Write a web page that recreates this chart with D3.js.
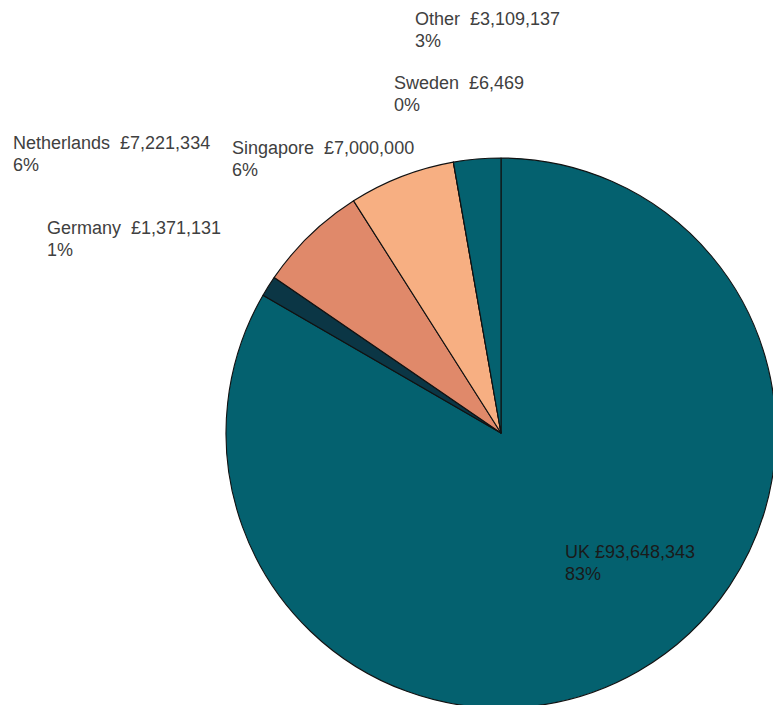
<!DOCTYPE html>
<html><head><meta charset="utf-8">
<script src="https://cdn.jsdelivr.net/npm/d3@7"></script>
<style>body{margin:0;background:#fff}svg{display:block}</style>
</head><body>
<script>
const countries = ["UK","Germany","Netherlands","Singapore","Sweden","Other"];
const amounts = [93648343,1371131,7221334,7000000,6469,3109137];
const percents = ["83%","1%","6%","6%","0%","3%"];
const colors = ["#04616F","#0B3645","#E0896A","#F7AF82","#F7AF82","#04616F"];
// label anchor positions (layout only)
const labelPos = [[565,558],[47,234],[13,149],[232,154],[394,89],[415,25]];

const W=773,H=705, cx=501, cy=433, R=275;
const svg=d3.select("body").append("svg").attr("width",W).attr("height",H);
const pie=d3.pie().sort(null).value(d=>d.v);
const data=countries.map((c,i)=>({c,v:amounts[i],p:percents[i],col:colors[i],pos:labelPos[i]}));
const arc=d3.arc().innerRadius(0).outerRadius(R);
const g=svg.append("g").attr("transform",`translate(${cx},${cy})`);
g.selectAll("path").data(pie(data)).join("path")
  .attr("d",arc).attr("fill",d=>d.data.col)
  .attr("stroke","#111").attr("stroke-width",1.1).attr("stroke-linejoin","round");

const fmt=d3.format(",");
const lab=svg.append("g").attr("font-family","'Liberation Sans', Arial, sans-serif").attr("font-size",18);
data.forEach((d,i)=>{
  const t=lab.append("text").attr("x",d.pos[0]).attr("y",d.pos[1])
    .attr("fill", i===0?"#1a1a1a":"#404040").style("white-space","pre");
  t.append("tspan").attr("x",d.pos[0]).text(d.c+(i===0?" ":"  ")+"£"+fmt(d.v));
  t.append("tspan").attr("x",d.pos[0]).attr("dy",22).text(d.p);
});
</script>
</body></html>
